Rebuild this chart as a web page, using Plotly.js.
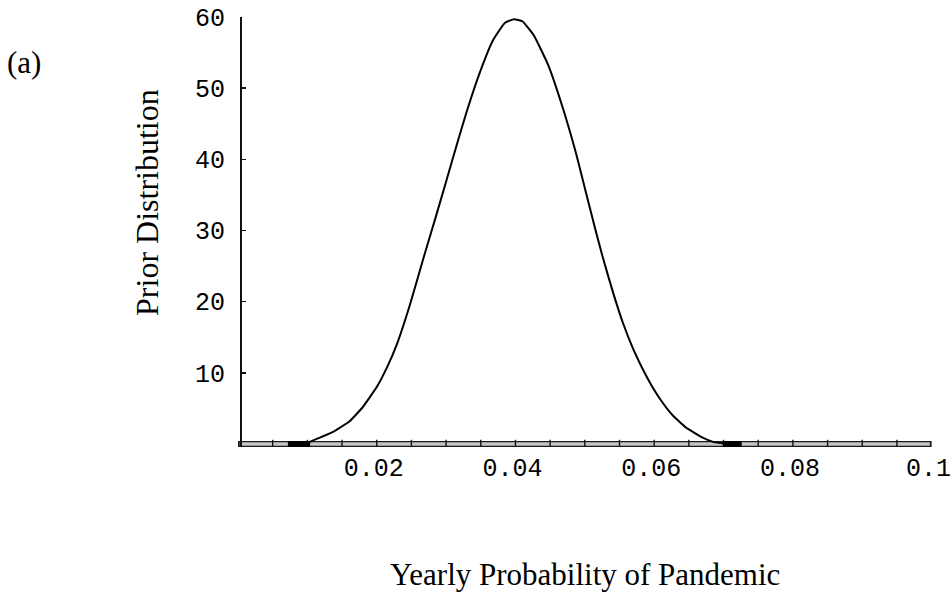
<!DOCTYPE html>
<html>
<head>
<meta charset="utf-8">
<script src="https://cdn.plot.ly/plotly-3.0.1.min.js"></script>
<style>
html,body{margin:0;padding:0;background:#ffffff;}
#chart{width:952px;height:592px;}
</style>
</head>
<body>
<div id="chart"></div>
<script>
// Prior distribution curve
const probability = [0.0072, 0.0100, 0.0118, 0.0137, 0.0161, 0.0180, 0.0200, 0.0215, 0.0229, 0.0248,
  0.0267, 0.0286, 0.0301, 0.0315, 0.0330, 0.0349, 0.0368, 0.0385, 0.0398, 0.0410, 0.0426,
  0.0447, 0.0469, 0.0488, 0.0502, 0.0514, 0.0526, 0.0541, 0.0555, 0.0570, 0.0589, 0.0608,
  0.0627, 0.0646, 0.0670, 0.0685, 0.0705, 0.0726];
const density = [0.0, 0.2, 0.9, 1.7, 3.2, 5.2, 8.0, 10.8, 14.0, 19.6,
  26.0, 32.2, 37.2, 41.9, 46.8, 52.3, 56.8, 59.2, 59.7, 59.4, 57.5,
  53.3, 47.0, 40.6, 35.2, 30.6, 26.2, 21.2, 17.0, 13.3, 9.5, 6.4,
  4.0, 2.3, 0.9, 0.3, 0.05, 0.0];

// stretches where the curve lies on the axis bar
const contactLeft = [0.0072, 0.0104];
const contactRight = [0.0699, 0.0726];

const xTickValues = [0.02, 0.04, 0.06, 0.08, 0.1];
const xTickLabels = ["0.02", "0.04", "0.06", "0.08", "0.1"];
const yTickValues = [10, 20, 30, 40, 50, 60];
const yTickLabels = ["10", "20", "30", "40", "50", "60"];
const axisMinorTicks = [0.005, 0.01, 0.015, 0.02, 0.025, 0.03, 0.035, 0.04, 0.045, 0.05,
  0.055, 0.06, 0.065, 0.07, 0.075, 0.08, 0.085, 0.09, 0.095];
const axisExtent = [0, 0.1];

const monoFont = {family: "'Liberation Mono', 'Courier New', monospace", size: 25, color: '#000000'};
const serifFont = {family: "'Liberation Serif', 'Times New Roman', serif", size: 31, color: '#000000'};
const serifFontY = {family: "'Liberation Serif', 'Times New Roman', serif", size: 32, color: '#000000'};

const traces = [
  {x: axisExtent, y: [0, 0], mode: 'lines', line: {color: '#1a1a1a', width: 6}, hoverinfo: 'skip'},
  {x: [axisExtent[0] + 0.00025, axisExtent[1] - 0.00025], y: [0, 0], mode: 'lines',
   line: {color: '#c4c4c4', width: 3.4}, hoverinfo: 'skip'},
  {x: axisMinorTicks, y: axisMinorTicks.map(() => 0), mode: 'markers',
   marker: {symbol: 'line-ns', size: 6, line: {width: 1.4, color: '#111111'}}, hoverinfo: 'skip'},
  {x: contactLeft, y: [0, 0], mode: 'lines', line: {color: '#000000', width: 6}, hoverinfo: 'skip'},
  {x: contactRight, y: [0, 0], mode: 'lines', line: {color: '#000000', width: 6}, hoverinfo: 'skip'},
  {x: probability, y: density, mode: 'lines', line: {color: '#000000', width: 2, shape: 'spline', smoothing: 0.4}}
];

const layout = {
  width: 952, height: 592,
  margin: {l: 238, r: 19, t: 17, b: 145, pad: 0},
  paper_bgcolor: '#ffffff', plot_bgcolor: '#ffffff',
  showlegend: false,
  xaxis: {
    range: [0, 0.1002], showgrid: false, zeroline: false, showline: false,
    tickmode: 'array', tickvals: xTickValues, ticktext: xTickLabels,
    ticks: '', tickfont: monoFont, ticklabelstandoff: 3, ticklabelshift: -3, fixedrange: true
  },
  yaxis: {
    range: [-0.42, 60], anchor: 'free', position: 0.0043,
    showgrid: false, zeroline: false, showline: true, linewidth: 2, linecolor: '#111111',
    ticks: 'inside', ticklen: 4, tickwidth: 1.5, tickcolor: '#111111',
    tickmode: 'array', tickvals: yTickValues, ticktext: yTickLabels,
    tickfont: monoFont, ticklabelstandoff: 10, fixedrange: true
  },
  annotations: [
    {text: 'Yearly Probability of Pandemic', xref: 'paper', yref: 'paper', x: 0.4986, y: -0.296,
     xanchor: 'center', yanchor: 'middle', showarrow: false, font: serifFont},
    {text: 'Prior Distribution', xref: 'paper', yref: 'paper', x: -0.131, y: 0.5698,
     xanchor: 'center', yanchor: 'middle', textangle: -90, showarrow: false, font: serifFontY},
    {text: '(a)', xref: 'paper', yref: 'paper', x: -0.308, y: 0.895,
     xanchor: 'center', yanchor: 'middle', showarrow: false, font: serifFont}
  ]
};

Plotly.newPlot('chart', traces, layout, {displayModeBar: false, staticPlot: true});
</script>
</body>
</html>
